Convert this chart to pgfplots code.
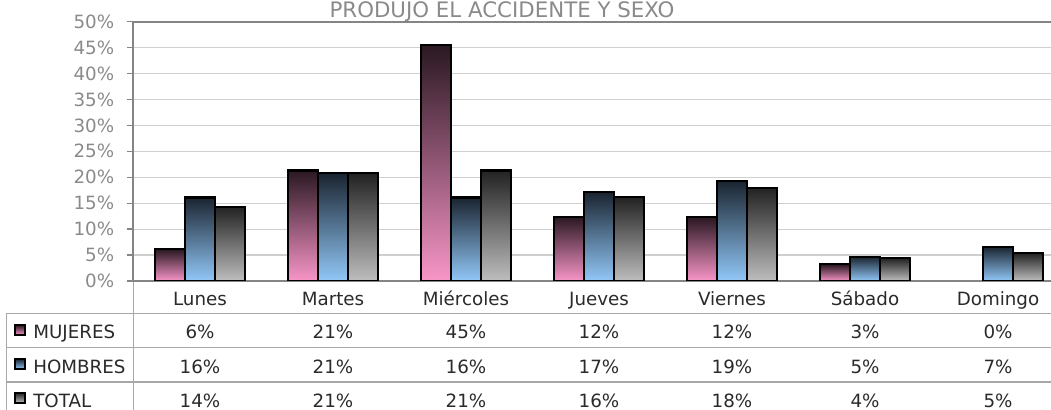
\documentclass[border=0pt]{standalone}
\usepackage{pgfplots}
\pgfplotsset{compat=1.18}
\usepackage{fontspec}
\setmainfont{DejaVu Sans}
\definecolor{pinkB}{HTML}{F896C8}
\definecolor{pinkT}{HTML}{2A1822}
\definecolor{blueB}{HTML}{92C8F8}
\definecolor{blueT}{HTML}{1A2430}
\definecolor{grayB}{HTML}{BEBEBE}
\definecolor{grayT}{HTML}{222222}
\definecolor{axgray}{HTML}{858585}
\definecolor{gridgray}{HTML}{CFCFCF}
\definecolor{tickgray}{HTML}{8A8A8A}
\definecolor{txt}{HTML}{2A2A2A}
\definecolor{tblgray}{HTML}{A8A8A8}
\pgfplotsset{
  mujer/.style={forget plot, draw=black, line width=1.6pt, top color=pinkT, bottom color=pinkB, bar shift=-0.2256},
  hombre/.style={forget plot, draw=black, line width=1.6pt, top color=blueT, bottom color=blueB, bar shift=0},
  total/.style={forget plot, draw=black, line width=1.6pt, top color=grayT, bottom color=grayB, bar shift=0.2256},
}
\begin{document}
\begin{tikzpicture}[font=\fontsize{13.7}{16}\selectfont]
\path[use as bounding box] (-100.125pt,-96.75pt) rectangle (688.125pt,210.75pt);
\begin{axis}[
  at={(0,0)}, anchor=south west,
  scale only axis, width=698.25pt, height=194.5pt,
  xmin=-0.5, xmax=6.5, ymin=0, ymax=50,
  ybar, bar width=0.2256,
  xtick={0,...,6},
  xticklabels={Lunes,Martes,Miércoles,Jueves,Viernes,Sábado,Domingo},
  xticklabel style={anchor=base, yshift=-13.5pt, text=txt},
  ytick={0,5,...,50},
  yticklabel={\pgfmathprintnumber{\tick}\%},
  yticklabel style={text=tickgray, xshift=-6pt},
  /pgf/number format/assume math mode=true,
  tick align=outside, major tick length=5pt,
  xtick style={draw=none},
  ytick style={draw=axgray, line width=1pt},
  ymajorgrids, grid style={gridgray, line width=0.9pt},
  axis line style={axgray, line width=1.5pt},
]
% MUJERES
\addplot[mujer] coordinates {(0,6.1)};
\addplot[mujer] coordinates {(1,21.3)};
\addplot[mujer] coordinates {(2,45.5)};
\addplot[mujer] coordinates {(3,12.4)};
\addplot[mujer] coordinates {(4,12.3)};
\addplot[mujer] coordinates {(5,3.2)};
% HOMBRES
\addplot[hombre] coordinates {(0,16.1)};
\addplot[hombre] coordinates {(1,20.8)};
\addplot[hombre] coordinates {(2,16.1)};
\addplot[hombre] coordinates {(3,17.2)};
\addplot[hombre] coordinates {(4,19.3)};
\addplot[hombre] coordinates {(5,4.7)};
\addplot[hombre] coordinates {(6,6.6)};
% TOTAL
\addplot[total] coordinates {(0,14.3)};
\addplot[total] coordinates {(1,20.8)};
\addplot[total] coordinates {(2,21.3)};
\addplot[total] coordinates {(3,16.2)};
\addplot[total] coordinates {(4,18.0)};
\addplot[total] coordinates {(5,4.4)};
\addplot[total] coordinates {(6,5.4)};
\end{axis}
\begin{scope}[x=0.75pt,y=-0.75pt,shift={(-100.125pt,210.75pt)}]
  \node[anchor=base, text=tickgray, font=\fontsize{16}{19}\selectfont] at (502,18) {PRODUJO EL ACCIDENTE Y SEXO};
  \draw[tblgray, line width=1pt] (6.7,313.3) -- (1060,313.3);
  \draw[tblgray, line width=1pt] (6.7,347.7) -- (1060,347.7);
  \draw[tblgray, line width=1pt] (6.7,381.9) -- (1060,381.9);
  \draw[tblgray, line width=1pt] (6.7,313.3) -- (6.7,420);
  \draw[tblgray, line width=1pt] (133.5,282) -- (133.5,420);
  \shade[top color=pinkT, bottom color=pinkB, draw=black, line width=1pt] (15,325) rectangle (25,335);
  \shade[top color=blueT, bottom color=blueB, draw=black, line width=1pt] (15,359) rectangle (25,369);
  \shade[top color=grayT, bottom color=grayB, draw=black, line width=1pt] (15,393) rectangle (25,403);
  \node[anchor=base west, inner sep=0, text=txt] at (33,339) {MUJERES};
  \node[anchor=base west, inner sep=0, text=txt] at (33,373.3) {HOMBRES};
  \node[anchor=base west, inner sep=0, text=txt] at (33,407.3) {TOTAL};
  \foreach \v [count=\i from 0] in {6,21,45,12,12,3,0}
    \node[anchor=base, inner sep=0, text=txt] at (200+133*\i,339) {\v\%};
  \foreach \v [count=\i from 0] in {16,21,16,17,19,5,7}
    \node[anchor=base, inner sep=0, text=txt] at (200+133*\i,373.3) {\v\%};
  \foreach \v [count=\i from 0] in {14,21,21,16,18,4,5}
    \node[anchor=base, inner sep=0, text=txt] at (200+133*\i,407.3) {\v\%};
\end{scope}
\end{tikzpicture}
\end{document}
